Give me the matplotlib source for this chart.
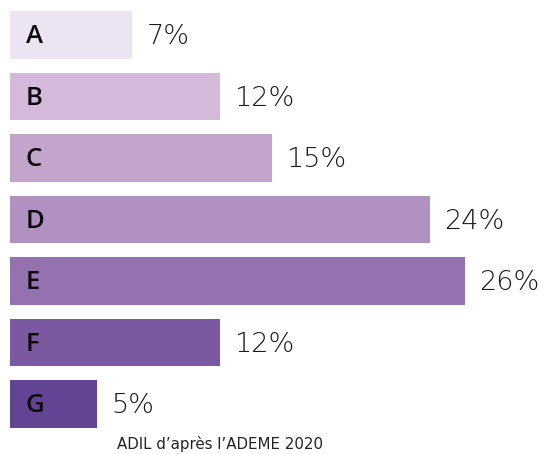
import matplotlib
matplotlib.use("Agg")
from matplotlib import pyplot as plt

# energy classes and their share
classes = ["A", "B", "C", "D", "E", "F", "G"]
shares = [7, 12, 15, 24, 26, 12, 5]
colors = ["#ece4f2", "#d5b9da", "#c3a5cc", "#b191c1", "#9472b0", "#7b59a0", "#634494"]
source = "ADIL d\u2019apr\u00e8s l\u2019ADEME 2020"

W, H, DPI = 545, 454, 100
PX_PER_PCT = 17.5
LEFT_PX = 10
ROW_PX = 61.5
FIRST_ROW_PX = 35

fig = plt.figure(figsize=(W / DPI, H / DPI), dpi=DPI)
ax = fig.add_axes([0, 0, 1, 1])
ax.set_xlim(-LEFT_PX / PX_PER_PCT, (W - LEFT_PX) / PX_PER_PCT)
ax.set_ylim((H - FIRST_ROW_PX) / ROW_PX, -FIRST_ROW_PX / ROW_PX)
ax.axis("off")

ypos = list(range(len(classes)))
ax.barh(ypos, shares, height=0.765, color=colors, edgecolor="none")

for y, cls, val in zip(ypos, classes, shares):
    ax.text(16 / PX_PER_PCT, y + 0.03, cls, ha="left", va="center",
            fontsize=18.5, fontweight="semibold", family="Open Sans", color="#0a0a0a")
    ax.text(val + 14 / PX_PER_PCT, y + 0.03, f"{val}%", ha="left", va="center",
            fontsize=19.5, fontweight="light", family="DejaVu Sans", color="#1a1a1a")

fig.text(220 / W, 1 - 444 / H, source, ha="center", va="center",
         fontsize=10.8, family="DejaVu Sans", color="#222222")

fig.savefig("out.png", dpi=DPI, facecolor="white")
